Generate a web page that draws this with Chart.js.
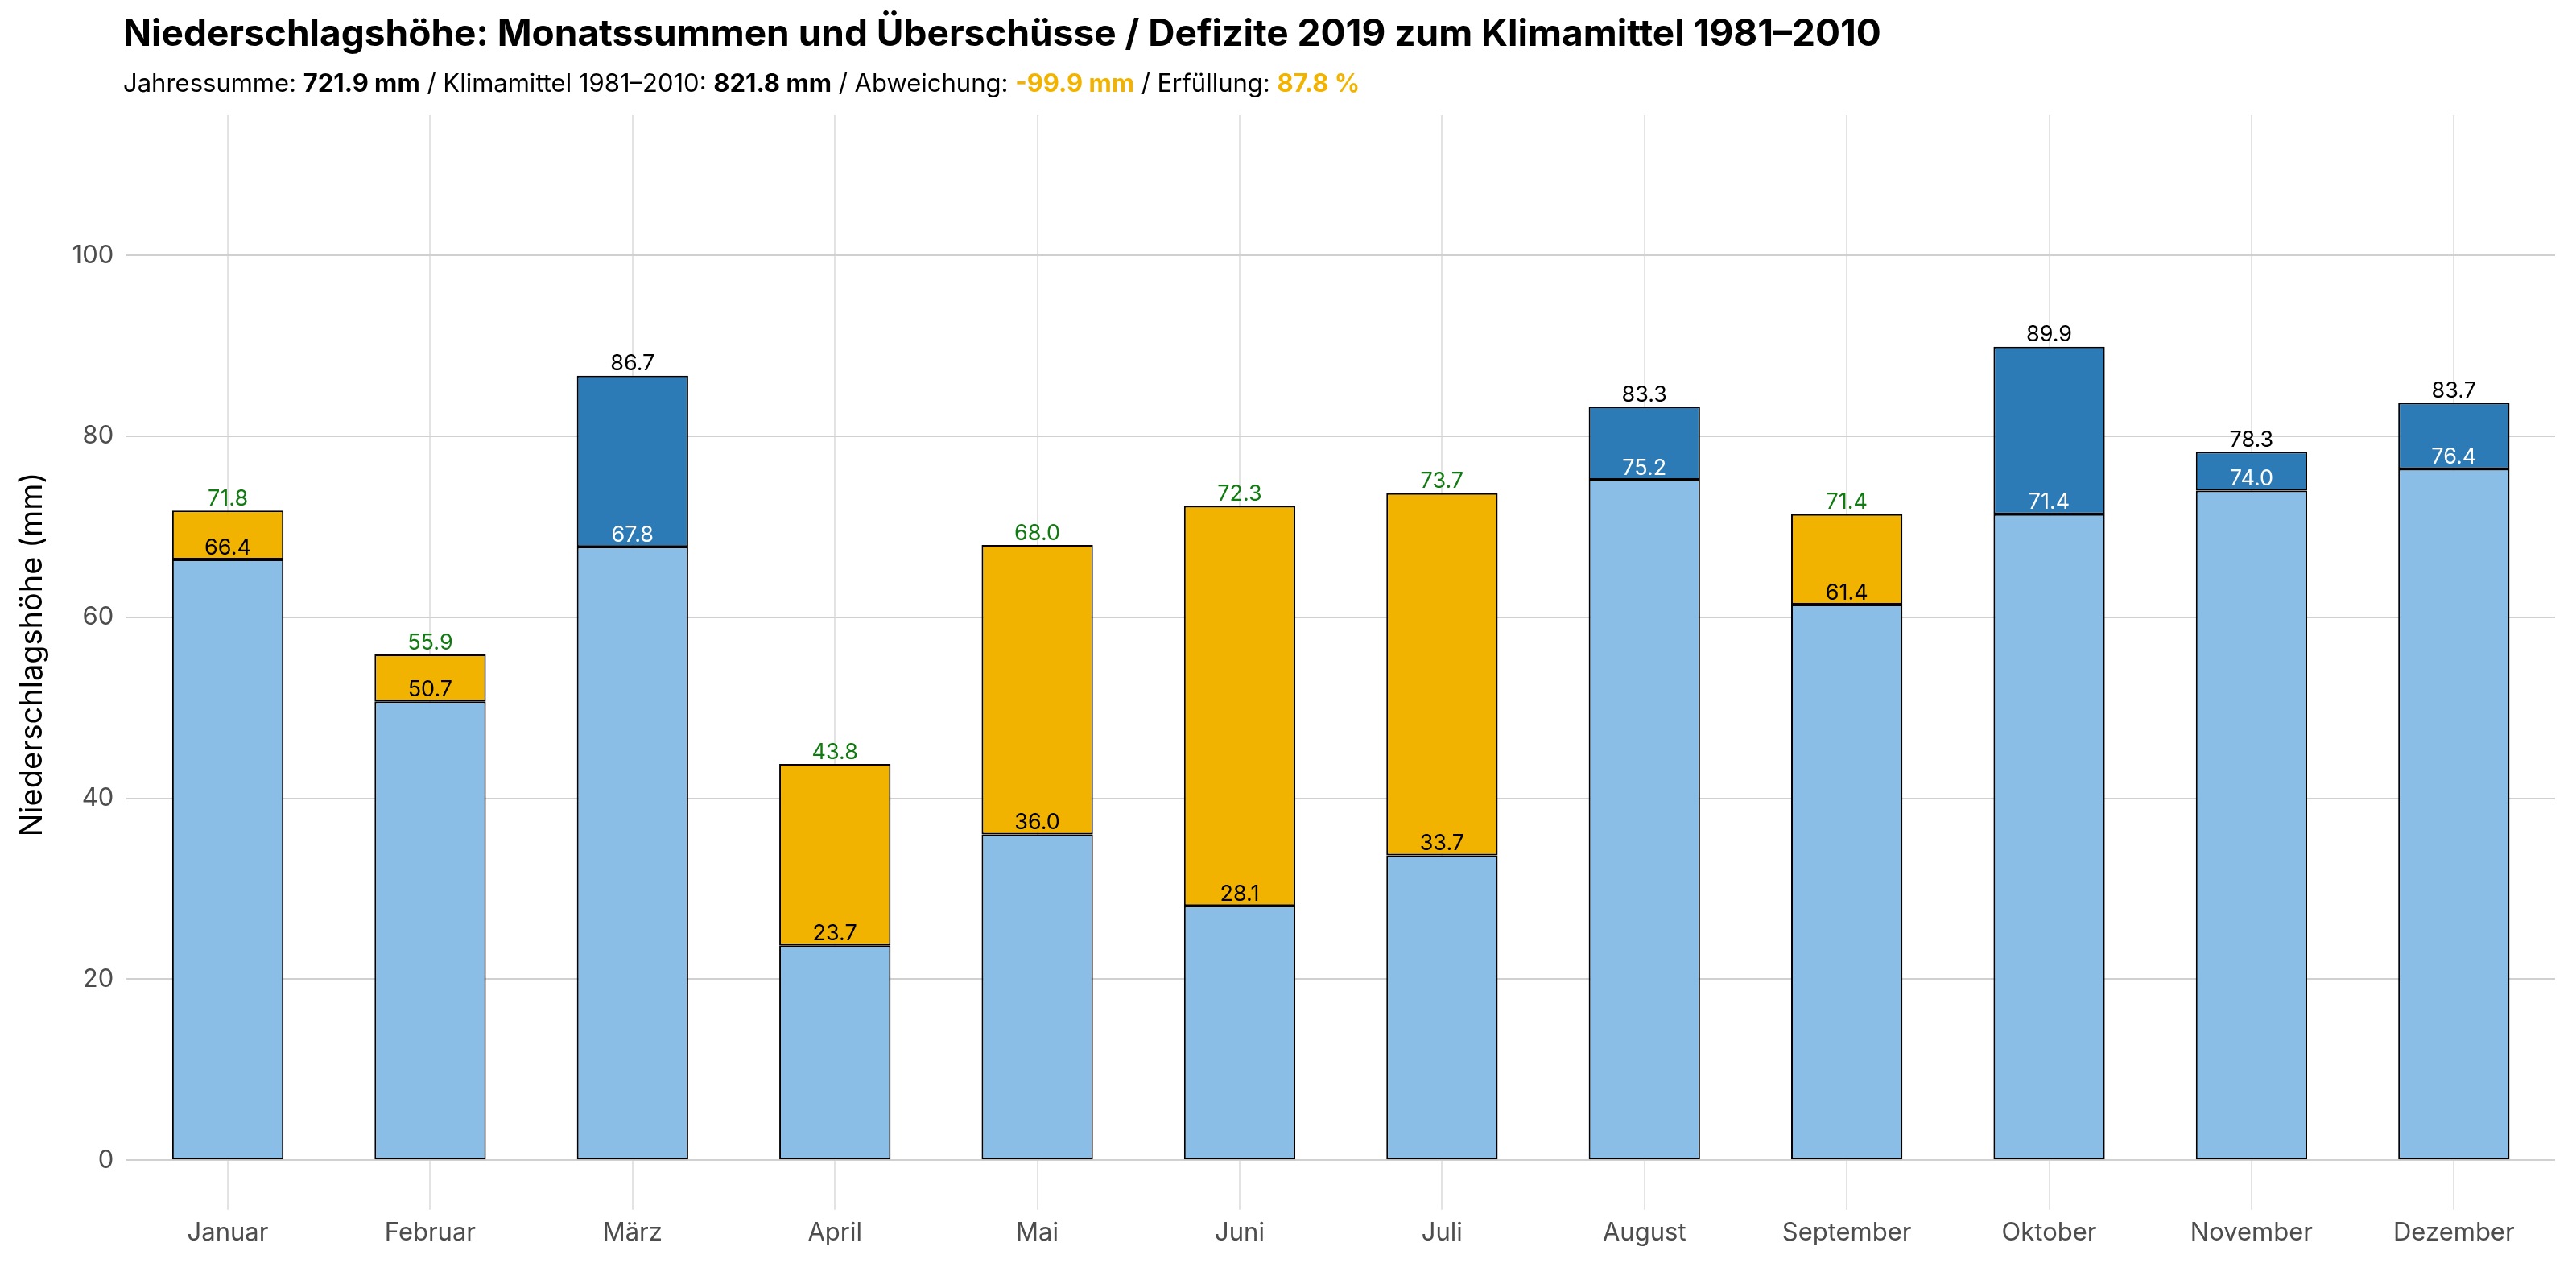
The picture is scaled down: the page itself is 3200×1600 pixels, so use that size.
<!DOCTYPE html>
<html lang="de">
<head>
<meta charset="UTF-8" />
<title>Niederschlagshöhe 2019</title>
<script src="https://cdn.jsdelivr.net/npm/chart.js"></script>
<style>
  body { margin: 0; background: #fff; font-family: Inter, "Noto Sans", sans-serif; }
  #wrap { position: relative; width: 3200px; height: 1600px; }
  #titel { position: absolute; left: 153px; top: 12px; font-size: 46px; font-weight: 700; color: #000; }
  #untertitel { position: absolute; left: 153px; top: 84px; font-size: 31px; color: #000; }
  .gelb { color: #f2b300; font-weight: 700; }
  canvas { position: absolute; left: 0; top: 0; }
</style>
</head>
<body>
<div id="wrap">
  <canvas id="chart" width="3200" height="1600"></canvas>
  <div id="titel">Niederschlagshöhe: Monatssummen und Überschüsse / Defizite 2019 zum Klimamittel 1981–2010</div>
  <div id="untertitel">Jahressumme: <b>721.9 mm</b> / Klimamittel 1981–2010: <b>821.8 mm</b> / Abweichung: <span class="gelb">-99.9 mm</span> / Erfüllung: <span class="gelb">87.8 %</span></div>
</div>
<script>
  const monate = ['Januar', 'Februar', 'März', 'April', 'Mai', 'Juni', 'Juli', 'August', 'September', 'Oktober', 'November', 'Dezember'];
  const niederschlag = [66.4, 50.7, 86.7, 23.7, 36.0, 28.1, 33.7, 83.3, 61.4, 89.9, 78.3, 83.7];
  const klimamittel = [71.8, 55.9, 67.8, 43.8, 68.0, 72.3, 73.7, 75.2, 71.4, 71.4, 74.0, 76.4];
  const yTicks = [0, 20, 40, 60, 80, 100];

  const basis = niederschlag.map((v, i) => Math.min(v, klimamittel[i]));
  const defizit = niederschlag.map((v, i) => Math.max(klimamittel[i] - v, 0));
  const ueberschuss = niederschlag.map((v, i) => Math.max(v - klimamittel[i], 0));

  // Beschriftungen über den Segmenten
  const labelPlugin = {
    id: 'labels',
    afterDatasetsDraw(chart) {
      const c = chart.ctx;
      const x = chart.scales.x, y = chart.scales.y;
      c.save();
      c.font = '27px Inter, "Noto Sans", sans-serif';
      c.textAlign = 'center';
      c.textBaseline = 'bottom';
      monate.forEach((m, i) => {
        const px = x.getPixelForValue(i);
        const plus = niederschlag[i] > klimamittel[i];
        c.fillStyle = plus ? '#ffffff' : '#000000';
        c.fillText(basis[i].toFixed(1), px, y.getPixelForValue(basis[i]) - 1);
        const top = Math.max(niederschlag[i], klimamittel[i]);
        c.fillStyle = plus ? '#000000' : '#117a11';
        c.fillText(top.toFixed(1), px, y.getPixelForValue(top) - 1);
      });
      c.restore();
    }
  };

  const common = { borderColor: '#000', borderWidth: 2, borderSkipped: false, categoryPercentage: 1, barPercentage: 0.55 };

  new Chart(document.getElementById('chart'), {
    type: 'bar',
    data: {
      labels: monate,
      datasets: [
        { ...common, label: 'Basis', data: basis, backgroundColor: '#8bbee6' },
        { ...common, label: 'Defizit', data: defizit.map(v => v || null), backgroundColor: '#f2b300' },
        { ...common, label: 'Überschuss', data: ueberschuss.map(v => v || null), backgroundColor: '#2c7bb6' }
      ]
    },
    options: {
      responsive: false,
      animation: false,
      devicePixelRatio: 1,
      layout: { padding: { top: 143, right: 26, bottom: 40, left: 14 } },
      plugins: { legend: { display: false }, tooltip: { enabled: false } },
      scales: {
        x: {
          stacked: true,
          grid: { offset: false, color: '#e3e3e3', lineWidth: 2, tickLength: 20, drawTicks: true },
          border: { display: false },
          ticks: { color: '#4d4d4d', font: { size: 31, family: 'Inter, "Noto Sans", sans-serif' }, padding: 10 }
        },
        y: {
          stacked: true,
          min: -3.7,
          max: 115.5,
          afterBuildTicks: ax => { ax.ticks = yTicks.map(v => ({ value: v })); },
          grid: { color: '#d0d0d0', lineWidth: 2, drawTicks: false },
          border: { display: false },
          ticks: { color: '#4d4d4d', font: { size: 31, family: 'Inter, "Noto Sans", sans-serif' }, padding: 16 },
          title: { display: true, text: 'Niederschlagshöhe (mm)', color: '#000', font: { size: 38, family: 'Inter, "Noto Sans", sans-serif' }, padding: { bottom: 10 } }
        }
      }
    },
    plugins: [labelPlugin]
  });
</script>
</body>
</html>
